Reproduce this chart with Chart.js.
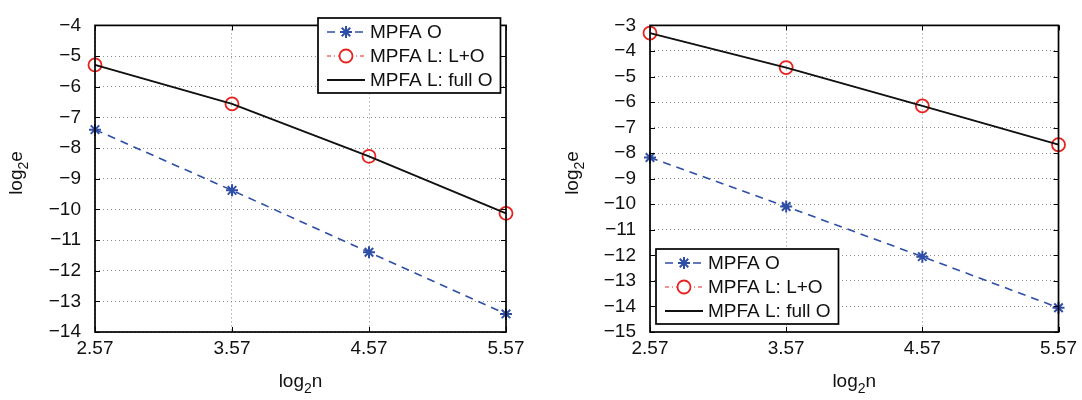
<!DOCTYPE html>
<html>
<head>
<meta charset="utf-8">
<script src="https://cdn.jsdelivr.net/npm/chart.js@4"></script>
<style>
  html, body { margin: 0; padding: 0; background: #fff; }
  #wrap { position: relative; width: 1082px; height: 400px; }
  #wrap canvas { position: absolute; top: 0; }
  #left  { left: 0; }
  #right { left: 541px; }
</style>
</head>
<body>
<div id="wrap">
  <canvas id="left" width="541" height="400"></canvas>
  <canvas id="right" width="541" height="400"></canvas>
</div>
<script>
// ── DATA ─────────────────────────────────────────────
const xTicks      = [2.57, 3.57, 4.57, 5.57];
const seriesNames = ["MPFA O", "MPFA L: L+O", "MPFA L: full O"];

const leftO    = [-7.40, -9.38, -11.40, -13.41];
const leftLO   = [-5.29, -6.56, -8.27, -10.13];
const leftFull = [-5.29, -6.56, -8.27, -10.13];

const rightO    = [-8.17, -10.09, -12.05, -14.05];
const rightLO   = [-3.30, -4.65, -6.15, -7.67];
const rightFull = [-3.30, -4.65, -6.15, -7.67];

const leftYTicks  = [-14, -13, -12, -11, -10, -9, -8, -7, -6, -5, -4];
const rightYTicks = [-15, -14, -13, -12, -11, -10, -9, -8, -7, -6, -5, -4, -3];

const FONT = "'Liberation Sans', Arial, Helvetica, sans-serif";
const FS   = 19;
const BLUE = "#2f4fa6";
const RED  = "#e8221e";

// ── FRAME / TICKS / TITLES / LEGEND PLUGIN ─────────
const matlabFrame = {
  id: "matlabFrame",
  afterDatasetsDraw(chart) {
    const { ctx, chartArea: a, scales } = chart;
    ctx.save();
    ctx.strokeStyle = "#000";
    ctx.lineWidth = 1;
    // inward tick marks, all four sides
    ctx.beginPath();
    scales.x.ticks.forEach(t => {
      const px = Math.round(scales.x.getPixelForValue(t.value)) + 0.5;
      ctx.moveTo(px, a.bottom); ctx.lineTo(px, a.bottom - 5);
      ctx.moveTo(px, a.top);    ctx.lineTo(px, a.top + 5);
    });
    scales.y.ticks.forEach(t => {
      const py = Math.round(scales.y.getPixelForValue(t.value)) + 0.5;
      ctx.moveTo(a.left, py);  ctx.lineTo(a.left + 5, py);
      ctx.moveTo(a.right, py); ctx.lineTo(a.right - 5, py);
    });
    ctx.stroke();
    ctx.lineWidth = 1.7;
    ctx.strokeRect(a.left, a.top, a.right - a.left, a.bottom - a.top);
    ctx.restore();
  },
  afterDraw(chart, args, opts) {
    const { ctx, chartArea: a } = chart;
    ctx.save();
    ctx.fillStyle = "#111";

    // subscripted axis title: "log" + small "2" + suffix
    const drawSub = (suffix) => {
      ctx.font = FS + "px " + FONT;
      const w1 = ctx.measureText("log").width;
      ctx.font = "14px " + FONT;
      const w2 = ctx.measureText("2").width;
      ctx.font = FS + "px " + FONT;
      const w3 = ctx.measureText(suffix).width;
      let x = -(w1 + w2 + w3) / 2;
      ctx.textAlign = "left";
      ctx.textBaseline = "alphabetic";
      ctx.fillText("log", x, 6);
      x += w1;
      ctx.font = "14px " + FONT;
      ctx.fillText("2", x, 12);
      x += w2;
      ctx.font = FS + "px " + FONT;
      ctx.fillText(suffix, x, 6);
    };

    ctx.save();
    ctx.translate((a.left + a.right) / 2, 381);
    drawSub("n");
    ctx.restore();

    ctx.save();
    ctx.translate(opts.yTitleX, 173);
    ctx.rotate(-Math.PI / 2);
    drawSub("e");
    ctx.restore();

    // legend box
    const dsets = chart.data.datasets;
    ctx.font = FS + "px " + FONT;
    const textW = Math.max(...dsets.map(d => ctx.measureText(d.label).width));
    const rowH = 24;
    const boxW = 9 + 38 + 5 + textW + 8;
    const boxH = dsets.length * rowH + 3;
    const bx = opts.legendX, by = opts.legendY;
    ctx.fillStyle = "#fff";
    ctx.fillRect(bx, by, boxW, boxH);
    ctx.strokeStyle = "#000";
    ctx.lineWidth = 1.7;
    ctx.strokeRect(bx, by, boxW, boxH);

    dsets.forEach((d, i) => {
      const cy = by + 14 + i * rowH;
      const x0 = bx + 9, x1 = x0 + 38;
      ctx.save();
      ctx.strokeStyle = d.borderColor;
      ctx.lineWidth = d.borderWidth;
      ctx.setLineDash(d.borderDash || []);
      ctx.beginPath();
      ctx.moveTo(x0, cy); ctx.lineTo(x1, cy);
      ctx.stroke();
      ctx.restore();
      if (d.pointRadius > 0) {
        ctx.save();
        ctx.strokeStyle = d.pointBorderColor;
        ctx.fillStyle = "#fff";
        ctx.lineWidth = d.pointBorderWidth;
        Chart.helpers.drawPoint(ctx, {
          pointStyle: d.pointStyle, radius: d.pointRadius, rotation: 0,
          borderWidth: d.pointBorderWidth
        }, (x0 + x1) / 2, cy);
        ctx.restore();
      }
      ctx.fillStyle = "#111";
      ctx.textAlign = "left";
      ctx.textBaseline = "middle";
      ctx.fillText(d.label, x1 + 5, cy + 1);
    });
    ctx.restore();
  }
};

// ── CHART BUILDER ──────────────────────────────────
const buildChart = (canvasId, o, lo, full, yTicks, frameOpts, yWidth, rightPad) => {
  const ctx = document.getElementById(canvasId).getContext("2d");
  const toPts = arr => arr.map((v, i) => ({ x: xTicks[i], y: v }));
  const tickFmt = v => (v < 0 ? "\u2212" + Math.abs(v) : String(v));

  return new Chart(ctx, {
    type: "line",
    data: {
      datasets: [
        {
          label: seriesNames[0],
          data: toPts(o),
          borderColor: BLUE,
          borderWidth: 1.6,
          borderDash: [8, 6],
          pointStyle: "star",
          pointRadius: 6,
          pointBorderColor: BLUE,
          pointBorderWidth: 2,
          pointBackgroundColor: BLUE,
          clip: false,
          order: 3
        },
        {
          label: seriesNames[1],
          data: toPts(lo),
          borderColor: RED,
          borderWidth: 1,
          borderDash: [4, 3, 1, 3],
          pointStyle: "circle",
          pointRadius: 6.5,
          pointBorderColor: RED,
          pointBorderWidth: 1.8,
          pointBackgroundColor: "transparent",
          clip: false,
          order: 2
        },
        {
          label: seriesNames[2],
          data: toPts(full),
          borderColor: "#111",
          borderWidth: 1.8,
          pointRadius: 0,
          clip: false,
          order: 1
        }
      ]
    },
    options: {
      responsive: false,
      animation: false,
      events: [],
      layout: { padding: { top: 12, right: rightPad, left: 0, bottom: 0 } },
      scales: {
        x: {
          type: "linear",
          min: xTicks[0],
          max: xTicks[xTicks.length - 1],
          afterBuildTicks: s => { s.ticks = xTicks.map(v => ({ value: v })); },
          afterFit: s => { s.height = 68; },
          grid: { color: "#8a8a8a", lineWidth: 1, drawTicks: false },
          border: { display: false, dash: [1, 3] },
          ticks: {
            color: "#111",
            padding: 5,
            maxRotation: 0,
            autoSkip: false,
            font: { family: FONT, size: FS },
            callback: v => v.toFixed(2)
          }
        },
        y: {
          type: "linear",
          min: yTicks[0],
          max: yTicks[yTicks.length - 1],
          afterBuildTicks: s => { s.ticks = yTicks.map(v => ({ value: v })); },
          afterFit: s => { s.width = yWidth; },
          grid: { color: "#8a8a8a", lineWidth: 1, drawTicks: false },
          border: { display: false, dash: [1, 3] },
          ticks: {
            color: "#111",
            padding: 14,
            autoSkip: false,
            font: { family: FONT, size: FS },
            callback: tickFmt
          }
        }
      },
      plugins: {
        legend: { display: false },
        tooltip: { enabled: false },
        matlabFrame: frameOpts
      }
    },
    plugins: [matlabFrame]
  });
};

const leftChart = buildChart("left", leftO, leftLO, leftFull, leftYTicks,
  { legendX: 318, legendY: 18, yTitleX: 16 }, 95, 35);
const rightChart = buildChart("right", rightO, rightLO, rightFull, rightYTicks,
  { legendX: 115, legendY: 249, yTitleX: 31 }, 109, 21);
</script>
</body>
</html>
